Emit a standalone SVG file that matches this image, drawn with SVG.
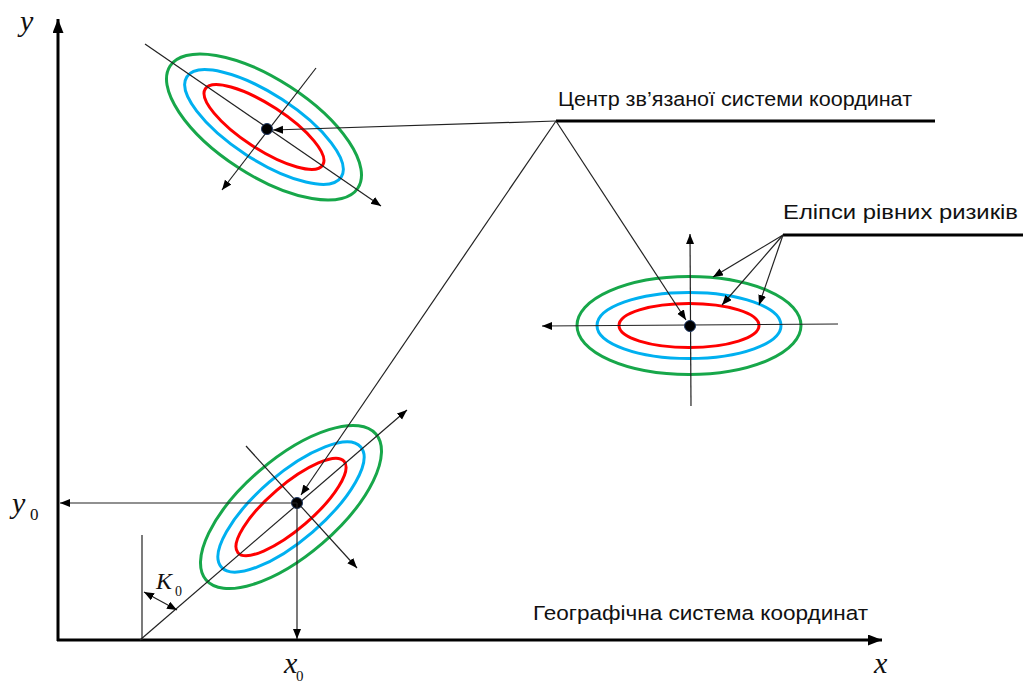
<svg xmlns="http://www.w3.org/2000/svg" width="1025" height="682" viewBox="0 0 1025 682">
<defs>
<marker id="ah" markerUnits="userSpaceOnUse" markerWidth="11" markerHeight="9" refX="10" refY="4" orient="auto-start-reverse"><path d="M0,0 L10,4 L0,8 z" fill="#000"/></marker>
<marker id="axh" markerUnits="userSpaceOnUse" markerWidth="15" markerHeight="12" refX="14" refY="5.5" orient="auto"><path d="M0,0 L14,5.5 L0,11 z" fill="#000"/></marker>
</defs>
<style>
.ln{stroke:#222;stroke-width:1.2;fill:none}
.ax{stroke:#000;stroke-width:3;fill:none}
.bar{stroke:#000;stroke-width:3;fill:none}
.g{stroke:#17a74a;stroke-width:3;fill:none}
.b{stroke:#00b0f0;stroke-width:3;fill:none}
.r{stroke:#ff0000;stroke-width:3;fill:none}
.dot{fill:#000;stroke:#1f3864;stroke-width:1}
.lbl{font-family:"Liberation Sans",Arial,sans-serif;font-size:20.5px;fill:#111}
.it{font-family:"Liberation Serif","Times New Roman",serif;font-style:italic;fill:#111}
.sub{font-family:"Liberation Serif","Times New Roman",serif;fill:#111}
</style>
<g id="axes">
<line class="ax" x1="58" y1="641" x2="58" y2="19" marker-end="url(#axh)"/>
<line class="ax" x1="57" y1="640" x2="882" y2="640" marker-end="url(#axh)"/>
<text class="it" x="20" y="31" font-size="30">y</text>
<text class="it" x="874" y="673" font-size="30">x</text>
<text class="it" x="12" y="513" font-size="30">y</text>
<text class="sub" x="30" y="520" font-size="17">0</text>
<text class="it" x="284" y="673" font-size="30">x</text>
<text class="sub" x="296" y="681" font-size="15">0</text>
</g>
<g id="ellipse-top">
<g transform="translate(264,127) rotate(33)">
<ellipse class="g" rx="112" ry="48"/>
<ellipse class="b" rx="92" ry="33"/>
<ellipse class="r" rx="70" ry="22"/>
</g>
<line class="ln" x1="145" y1="44" x2="381" y2="206" marker-end="url(#ah)"/>
<line class="ln" x1="316" y1="68" x2="222" y2="190" marker-end="url(#ah)"/>
<circle class="dot" cx="267" cy="129" r="5.5"/>
</g>
<g id="ellipse-right">
<g transform="translate(689,325.5)">
<ellipse class="g" rx="112" ry="49"/>
<ellipse class="b" rx="92" ry="33"/>
<ellipse class="r" rx="70" ry="22"/>
</g>
<line class="ln" x1="838" y1="324" x2="542" y2="326" marker-end="url(#ah)"/>
<line class="ln" x1="691" y1="406" x2="690" y2="234" marker-end="url(#ah)"/>
<circle class="dot" cx="690" cy="326" r="5.5"/>
</g>
<g id="ellipse-bottom">
<g transform="translate(291,507) rotate(-40.7)">
<ellipse class="g" rx="112" ry="48"/>
<ellipse class="b" rx="92" ry="33"/>
<ellipse class="r" rx="70" ry="22"/>
</g>
<line class="ln" x1="140" y1="640" x2="407" y2="410" marker-end="url(#ah)"/>
<line class="ln" x1="246" y1="446" x2="357" y2="568" marker-end="url(#ah)"/>
<circle class="dot" cx="297" cy="503" r="5.5"/>
</g>
<g id="label-center">
<text class="lbl" x="558" y="106" textLength="354" lengthAdjust="spacingAndGlyphs">Центр зв’язаної системи координат</text>
<line class="bar" x1="556" y1="121" x2="935" y2="121"/>
</g>
<g id="label-ellipses">
<text class="lbl" x="783" y="219" textLength="235" lengthAdjust="spacingAndGlyphs">Еліпси рівних ризиків</text>
<line class="bar" x1="783" y1="235" x2="1023" y2="235"/>
</g>
<g id="label-geo">
<text class="lbl" x="533" y="620" textLength="335" lengthAdjust="spacingAndGlyphs">Географічна система координат</text>
</g>
<g id="k0">
<line class="ln" x1="142" y1="535" x2="142" y2="640"/>
<line class="ln" x1="144" y1="592" x2="177" y2="610" marker-start="url(#ah)" marker-end="url(#ah)"/>
<text class="it" x="156" y="589" font-size="24">K</text>
<text class="sub" x="175" y="596" font-size="14">0</text>
</g>
<g id="connectors">
<line class="ln" x1="556" y1="121" x2="273" y2="130" marker-end="url(#ah)"/>
<line class="ln" x1="556" y1="121" x2="686" y2="320" marker-end="url(#ah)"/>
<line class="ln" x1="556" y1="121" x2="301" y2="495" marker-end="url(#ah)"/>
<line class="ln" x1="783" y1="235" x2="713" y2="277" marker-end="url(#ah)"/>
<line class="ln" x1="783" y1="235" x2="722" y2="305" marker-end="url(#ah)"/>
<line class="ln" x1="783" y1="235" x2="759" y2="305" marker-end="url(#ah)"/>
<line class="ln" x1="297" y1="503" x2="60" y2="503" marker-end="url(#ah)"/>
<line class="ln" x1="297" y1="503" x2="297" y2="639" marker-end="url(#ah)"/>
</g>
</svg>
